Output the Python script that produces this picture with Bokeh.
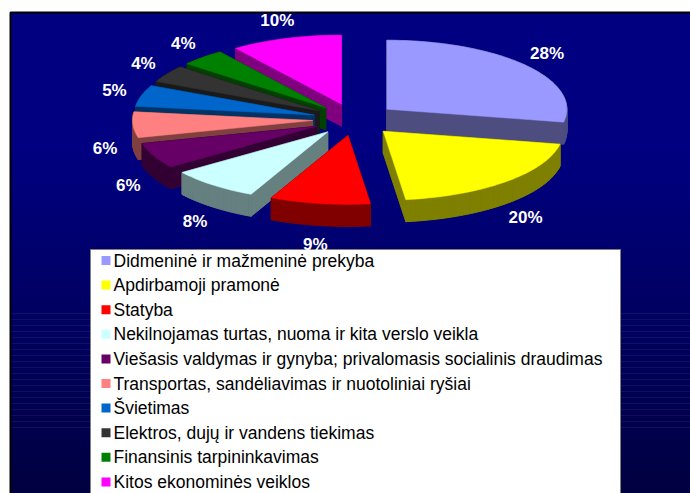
import math
import numpy as np
from bokeh.plotting import figure
from bokeh.models import Range1d
from bokeh.core.properties import value
from bokeh.embed import file_html
from bokeh.resources import INLINE

# ---- data ----
categories = [
    "Didmeninė ir mažmeninė prekyba",
    "Apdirbamoji pramonė",
    "Statyba",
    "Nekilnojamas turtas, nuoma ir kita verslo veikla",
    "Viešasis valdymas ir gynyba; privalomasis socialinis draudimas",
    "Transportas, sandėliavimas ir nuotoliniai ryšiai",
    "Švietimas",
    "Elektros, dujų ir vandens tiekimas",
    "Finansinis tarpininkavimas",
    "Kitos ekonominės veiklos",
]
shares = [28, 20, 9, 8, 6, 6, 5, 4, 4, 10]
top_colors = ["#9999FF", "#FFFF00", "#FF0000", "#CCFFFF", "#660066",
              "#FF8080", "#0066CC", "#333333", "#008000", "#FF00FF"]
side_colors = ["#4D4D80", "#808000", "#800000", "#668080", "#330033",
               "#804040", "#003366", "#1A1A1A", "#004000", "#800080"]

# ---- geometry (screen pixels) ----
CX, CY = 354.0, 119.0
RX, RY = 180.0, 69.0
DEPTH = 22.0
EXPLODE = 42.0
LRX, LRY = 250.0, 104.0

W, H = 690, 493
p = figure(width=W, height=H, output_backend="svg", toolbar_location=None,
           x_range=Range1d(0, W), y_range=Range1d(H, 0),
           min_border=0, background_fill_color="white", border_fill_color="white")
p.axis.visible = False
p.grid.visible = False
p.outline_line_color = None

# background panel with vertical gradient
n_bands = 80
top_y, bot_y = 12.0, float(H)
edges = np.linspace(top_y, bot_y, n_bands + 1)
band_cols = []
for i in range(n_bands):
    ym = 0.5 * (edges[i] + edges[i + 1])
    if ym < 150:
        b = 128
    else:
        b = int(round(128 - 64 * (ym - 150) / (bot_y - 150)))
    band_cols.append("#0000%02X" % b)
p.quad(left=10, right=W, top=edges[:-1], bottom=edges[1:] + 0.5,
       fill_color=band_cols, line_color=None)
p.line(x=[10, 10, W], y=[H, 12, 12], line_color="black", line_width=2)

# ---- 3D exploded pie ----
total = float(sum(shares))
cum = np.concatenate([[0.0], np.cumsum(shares)]) / total * 2 * math.pi

slices = []
for i in range(len(shares)):
    a0, a1 = cum[i], cum[i + 1]
    mid = 0.5 * (a0 + a1)
    ox = EXPLODE * math.sin(mid)
    oy = -EXPLODE * (RY / RX) * math.cos(mid)
    n = max(3, int(math.degrees(a1 - a0)) + 1)
    ang = np.linspace(a0, a1, n)
    xs = [CX + ox] + list(CX + ox + RX * np.sin(ang))
    ys = [CY + oy] + list(CY + oy - RY * np.cos(ang))
    slices.append((mid, i, xs, ys))

# draw back to front
order = sorted(slices, key=lambda s: -math.cos(s[0]))
for mid, i, xs, ys in order:
    qx, qy = [], []
    m = len(xs)
    for k in range(m):
        k2 = (k + 1) % m
        qx.append([xs[k], xs[k2], xs[k2], xs[k]])
        qy.append([ys[k], ys[k2], ys[k2] + DEPTH, ys[k] + DEPTH])
    p.patches(xs=qx, ys=qy, fill_color=side_colors[i], line_color=side_colors[i],
              line_width=1)
    p.patch(x=xs, y=ys, fill_color=top_colors[i], line_color=top_colors[i],
            line_width=0.5)

# ---- legend box ----
p.quad(left=90, right=620, top=249, bottom=H + 10, fill_color="white",
       line_color="#808080", line_width=1)
leg_y = [260 + 24.6 * i for i in range(len(categories))]
p.rect(x=[105.5] * len(categories), y=leg_y, width=9, height=9,
       fill_color=top_colors, line_color=None)
p.text(x=[113] * len(categories), y=leg_y, text=categories, text_color="black",
       text_font=value("Liberation Sans"), text_font_size="17.5px",
       text_baseline="middle", text_align="left")

# percentage labels (drawn last)
lx, ly, lt = [], [], []
for i in range(len(shares)):
    mid = 0.5 * (cum[i] + cum[i + 1])
    c = -math.cos(mid)
    lx.append(CX + LRX * math.sin(mid))
    ly.append(CY + LRY * c + (DEPTH if c > 0 else 0))
    lt.append(f"{shares[i]}%")
p.text(x=lx, y=ly, text=lt, text_color="white", text_font=value("Liberation Sans"),
       text_font_style="bold", text_font_size="17px", text_align="center",
       text_baseline="middle")

open("out.html", "w").write(file_html(p, INLINE))
